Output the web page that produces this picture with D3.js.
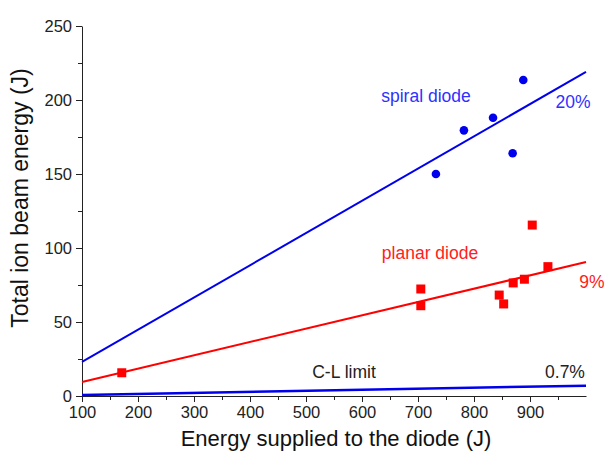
<!DOCTYPE html>
<html>
<head>
<meta charset="utf-8">
<script src="https://cdn.jsdelivr.net/npm/d3@7"></script>
<style>
  body { margin: 0; background: #fff; }
  svg { font-family: Arial, "Liberation Sans", sans-serif; }
  .axis path, .axis line { stroke: #222; }
  .axis text { font-size: 16.5px; fill: #222; }
  .axistitle { fill: #111; }
</style>
</head>
<body>
<svg id="chart" width="606" height="451"></svg>
<script>
// data
const spiralE = [732, 782, 834, 869, 888];
const spiralIon = [150, 179.5, 188, 164, 213.5];
const planarE = [171, 705, 705, 845, 853, 870, 890, 904, 932];
const planarIon = [15.7, 72.3, 61, 68.2, 62.2, 76.4, 78.9, 115.5, 87.4];
const spiralFit = [[100, 23], [1000, 219]];
const planarFit = [[100, 9.5], [1000, 90.5]];
const clLimit = [[100, 0.7], [1000, 7]];
const xTicks = [100, 200, 300, 400, 500, 600, 700, 800, 900];
const yTicks = [0, 50, 100, 150, 200, 250];

let g = d3.select("#chart");

let xScale = d3.scaleLinear().domain([100, 1000]).range([82, 586]);
let yScale = d3.scaleLinear().domain([0, 250]).range([396, 26]);

// minor ticks first, then the labelled axes on top
let xMinor = d3.axisBottom(xScale).tickValues(d3.range(150, 1000, 100)).tickSize(4).tickFormat("");
g.append("g").attr("class", "axis").attr("transform", "translate(0,396)").call(xMinor)
    .select(".domain").remove();
let yMinor = d3.axisLeft(yScale).tickValues(d3.range(25, 250, 50)).tickSize(4).tickFormat("");
g.append("g").attr("class", "axis").attr("transform", "translate(82,0)").call(yMinor)
    .select(".domain").remove();

let xAxis = d3.axisBottom(xScale).tickValues(xTicks).tickSize(6).tickSizeOuter(0).tickPadding(4);
g.append("g").attr("class", "axis").attr("transform", "translate(0,396)").call(xAxis);
let yAxis = d3.axisLeft(yScale).tickValues(yTicks).tickSize(6).tickSizeOuter(0).tickPadding(4);
g.append("g").attr("class", "axis").attr("transform", "translate(82,0)").call(yAxis);

g.append("text").attr("class", "axistitle").attr("x", 336).attr("y", 446)
    .attr("font-size", "22px")
    .attr("text-anchor", "middle").text("Energy supplied to the diode (J)");
g.append("text").attr("class", "axistitle").attr("font-size", "23px")
    .attr("transform", "translate(28,198) rotate(-90)")
    .attr("text-anchor", "middle").text("Total ion beam energy (J)");

let line = d3.line().x(d => xScale(d[0])).y(d => yScale(d[1]));
g.append("path").attr("d", line(clLimit)).attr("fill", "none")
    .attr("stroke", "#0000ee").attr("stroke-width", 2.5);
g.append("path").attr("d", line(spiralFit)).attr("fill", "none")
    .attr("stroke", "#0000ee").attr("stroke-width", 2);
g.append("path").attr("d", line(planarFit)).attr("fill", "none")
    .attr("stroke", "#ff0000").attr("stroke-width", 2);

g.selectAll("circle.spiral").data(spiralE).join("circle")
    .attr("class", "spiral")
    .attr("cx", d => xScale(d))
    .attr("cy", (d, i) => yScale(spiralIon[i]))
    .attr("r", 4.3)
    .attr("fill", "#0000ee");

g.selectAll("rect.planar").data(planarE).join("rect")
    .attr("class", "planar")
    .attr("x", d => xScale(d) - 4.5)
    .attr("y", (d, i) => yScale(planarIon[i]) - 4.5)
    .attr("width", 9).attr("height", 9)
    .attr("fill", "#ff0000");

// labels
g.append("text").attr("x", 426).attr("y", 102).attr("text-anchor", "middle")
    .attr("font-size", "17.5px").attr("fill", "#3030ff").text("spiral diode");
g.append("text").attr("x", 573).attr("y", 108).attr("text-anchor", "middle")
    .attr("font-size", "17.5px").attr("fill", "#3030ff").text("20%");
g.append("text").attr("x", 430).attr("y", 259).attr("text-anchor", "middle")
    .attr("font-size", "17.5px").attr("fill", "#ff2020").text("planar diode");
g.append("text").attr("x", 592).attr("y", 288).attr("text-anchor", "middle")
    .attr("font-size", "17.5px").attr("fill", "#ff2020").text("9%");
g.append("text").attr("x", 344).attr("y", 378).attr("text-anchor", "middle")
    .attr("font-size", "17.5px").attr("fill", "#222").text("C-L limit");
g.append("text").attr("x", 565).attr("y", 378).attr("text-anchor", "middle")
    .attr("font-size", "17.5px").attr("fill", "#222").text("0.7%");
</script>
</body>
</html>
